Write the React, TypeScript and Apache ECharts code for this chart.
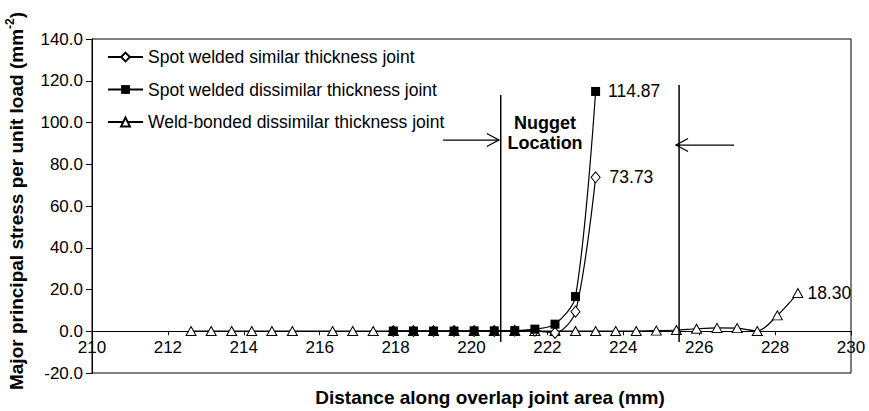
import { useEffect, useRef } from "react";
import * as echarts from "echarts";

const FONT = '"Liberation Sans", Arial, Helvetica, sans-serif';

// Distance along the overlap (mm) and stress per unit load (mm^-2)
const similarDistance = [217.94, 218.47, 219.0, 219.54, 220.07, 220.6, 221.14, 221.67, 222.2, 222.74, 223.27];
const similarStress = [0.1, 0.1, 0.1, 0.1, 0.1, 0.1, 0.2, 0.2, -0.8, 9.4, 73.73];

const dissimilarDistance = [217.94, 218.47, 219.0, 219.54, 220.07, 220.6, 221.14, 221.67, 222.2, 222.74, 223.27];
const dissimilarStress = [0.1, 0.1, 0.1, 0.1, 0.2, 0.2, 0.3, 1.0, 3.4, 16.6, 114.87];

const bondedDistance = [
  212.61, 213.14, 213.68, 214.21, 214.74, 215.28, 216.34, 216.87, 217.41, 217.94,
  218.47, 219.0, 219.54, 220.07, 220.6, 221.14, 221.67, 222.2, 222.74, 223.27,
  223.8, 224.34, 224.87, 225.4, 225.93, 226.47, 227.0, 227.53, 228.06, 228.6,
];
const bondedStress = [
  0.1, 0.1, 0.1, 0.1, 0.1, 0.1, 0.1, 0.1, 0.1, 0.1,
  0.1, 0.1, 0.1, 0.1, 0.1, 0.1, 0.1, 0.1, 0.1, 0.1,
  0.1, 0.1, 0.3, 0.6, 1.2, 1.6, 1.5, 0.1, 7.6, 18.3,
];

const seriesNames = [
  "Spot welded similar thickness joint",
  "Spot welded dissimilar thickness joint",
  "Weld-bonded dissimilar thickness joint",
];

const xTicks = { min: 210, max: 230, interval: 2 };
const yTicks = { min: -20, max: 140, interval: 20 };

// Nugget location markers: vertical lines [x, yBottom, yTop] and arrows [xFrom, xTo, y]
const nuggetLines = [
  [220.77, -5.1, 113.2],
  [225.47, -5.1, 118.0],
];
const nuggetArrows = [
  [219.25, 220.72, 91.6],
  [226.92, 225.39, 89.2],
];
const nuggetText = { x: 221.94, y: 95.0, text: "Nugget\nLocation" };

function points(xs: number[], ys: number[]) {
  return xs.map((x, i) => {
    const item: any = { value: [x, ys[i]] };
    if (i === xs.length - 1) {
      item.label = { show: true, formatter: ys[i].toFixed(2) };
    }
    return item;
  });
}

const W = 869;
const H = 411;
const GRID = { left: 92, right: 18, top: 39, bottom: 38 };

export default function App() {
  const ref = useRef<HTMLDivElement>(null);

  useEffect(() => {
    document.body.style.margin = "0";
    if (!ref.current) return;
    const chart = echarts.init(ref.current, null, { renderer: "svg" });

    const labelBase = {
      show: false,
      position: "right" as const,
      color: "#000",
      fontSize: 17.5,
      fontFamily: FONT,
    };

    // the horizontal axis sits on the zero line of the stress axis
    const gridHeight = H - GRID.top - GRID.bottom;
    const zeroOffset = -((0 - yTicks.min) / (yTicks.max - yTicks.min)) * gridHeight;

    chart.setOption({
      animation: false,
      textStyle: { fontFamily: FONT, color: "#000" },
      grid: {
        ...GRID,
        show: true,
        borderColor: "#000",
        borderWidth: 1,
      },
      legend: {
        left: 107,
        top: 47,
        orient: "vertical",
        padding: 0,
        itemWidth: 35,
        itemHeight: 11,
        itemGap: 12.5,
        textStyle: { fontSize: 17.5, fontFamily: FONT, color: "#000", lineHeight: 20 },
        data: seriesNames,
      },
      xAxis: {
        type: "value",
        min: xTicks.min,
        max: xTicks.max,
        interval: xTicks.interval,
        position: "bottom",
        offset: zeroOffset,
        axisLine: { onZero: false, lineStyle: { color: "#000", width: 1 } },
        axisTick: { show: true, inside: false, length: 4, lineStyle: { color: "#000" } },
        axisLabel: { color: "#000", fontSize: 17, fontFamily: FONT, margin: 8 },
        splitLine: { show: false },
      },
      yAxis: {
        type: "value",
        min: yTicks.min,
        max: yTicks.max,
        interval: yTicks.interval,
        axisLine: { show: true, onZero: false, lineStyle: { color: "#000", width: 1 } },
        axisTick: { show: true, inside: false, length: 6, lineStyle: { color: "#000" } },
        axisLabel: {
          color: "#000",
          fontSize: 17,
          fontFamily: FONT,
          margin: 9,
          formatter: (v: number) => v.toFixed(1),
        },
        splitLine: { show: false },
      },
      series: [
        {
          name: seriesNames[0],
          type: "line",
          data: points(similarDistance, similarStress),
          smooth: 0.3,
          symbol: "diamond",
          symbolSize: [9, 11],
          itemStyle: { color: "#fff", borderColor: "#000", borderWidth: 1 },
          lineStyle: { color: "#000", width: 1.2 },
          label: { ...labelBase, distance: 9 },
          z: 3,
        },
        {
          name: seriesNames[1],
          type: "line",
          data: points(dissimilarDistance, dissimilarStress),
          smooth: 0.3,
          symbol: "rect",
          symbolSize: 9,
          itemStyle: { color: "#000", borderColor: "#000", borderWidth: 0 },
          lineStyle: { color: "#000", width: 1.2 },
          label: { ...labelBase, distance: 8 },
          z: 4,
        },
        {
          name: seriesNames[2],
          type: "line",
          data: points(bondedDistance, bondedStress),
          smooth: 0.3,
          symbol: "triangle",
          symbolSize: [10, 9],
          itemStyle: { color: "#fff", borderColor: "#000", borderWidth: 1 },
          lineStyle: { color: "#000", width: 1.2 },
          label: { ...labelBase, distance: 4 },
          z: 2,
        },
      ],
    });

    const px = (x: number, y: number) =>
      chart.convertToPixel({ gridIndex: 0 }, [x, y]) as number[];

    const graphics: any[] = [];
    nuggetLines.forEach(([x, y0, y1]) => {
      const a = px(x, y0);
      const b = px(x, y1);
      graphics.push({
        type: "line",
        shape: { x1: a[0], y1: a[1], x2: b[0], y2: b[1] },
        style: { stroke: "#000", lineWidth: 1.5 },
        z: 10,
      });
    });
    nuggetArrows.forEach(([xFrom, xTo, y]) => {
      const a = px(xFrom, y);
      const b = px(xTo, y);
      const dir = b[0] > a[0] ? 1 : -1;
      graphics.push({
        type: "line",
        shape: { x1: a[0], y1: a[1], x2: b[0], y2: b[1] },
        style: { stroke: "#000", lineWidth: 1.3 },
        z: 10,
      });
      graphics.push({
        type: "polyline",
        shape: {
          points: [
            [b[0] - dir * 12, b[1] - 6.5],
            [b[0], b[1]],
            [b[0] - dir * 12, b[1] + 6.5],
          ],
        },
        style: { stroke: "#000", lineWidth: 1.3, fill: "none" },
        z: 10,
      });
    });
    const t = px(nuggetText.x, nuggetText.y);
    graphics.push({
      type: "text",
      x: t[0],
      y: t[1],
      style: {
        text: nuggetText.text,
        fill: "#000",
        font: `bold 18px ${FONT}`,
        align: "center",
        verticalAlign: "middle",
        lineHeight: 20,
      },
      z: 10,
    });

    // Axis titles
    graphics.push({
      type: "text",
      x: 490,
      y: 397,
      style: {
        text: "Distance along overlap joint area (mm)",
        fill: "#000",
        font: `bold 19px ${FONT}`,
        align: "center",
        verticalAlign: "middle",
      },
    });
    graphics.push({
      type: "text",
      x: 16,
      y: 201,
      rotation: Math.PI / 2,
      style: {
        text: "{m|Major principal stress per unit load (mm}{s|-2}{m|)}",
        align: "center",
        verticalAlign: "middle",
        rich: {
          m: {
            fontSize: 19,
            fontWeight: "bold",
            fontFamily: FONT,
            fill: "#000",
            lineHeight: 24,
            verticalAlign: "middle",
          },
          s: {
            fontSize: 12,
            fontWeight: "bold",
            fontFamily: FONT,
            fill: "#000",
            lineHeight: 13,
            verticalAlign: "top",
          },
        },
      },
    });

    chart.setOption({ graphic: graphics });

    return () => chart.dispose();
  }, []);

  return <div ref={ref} style={{ width: W, height: H }} />;
}
